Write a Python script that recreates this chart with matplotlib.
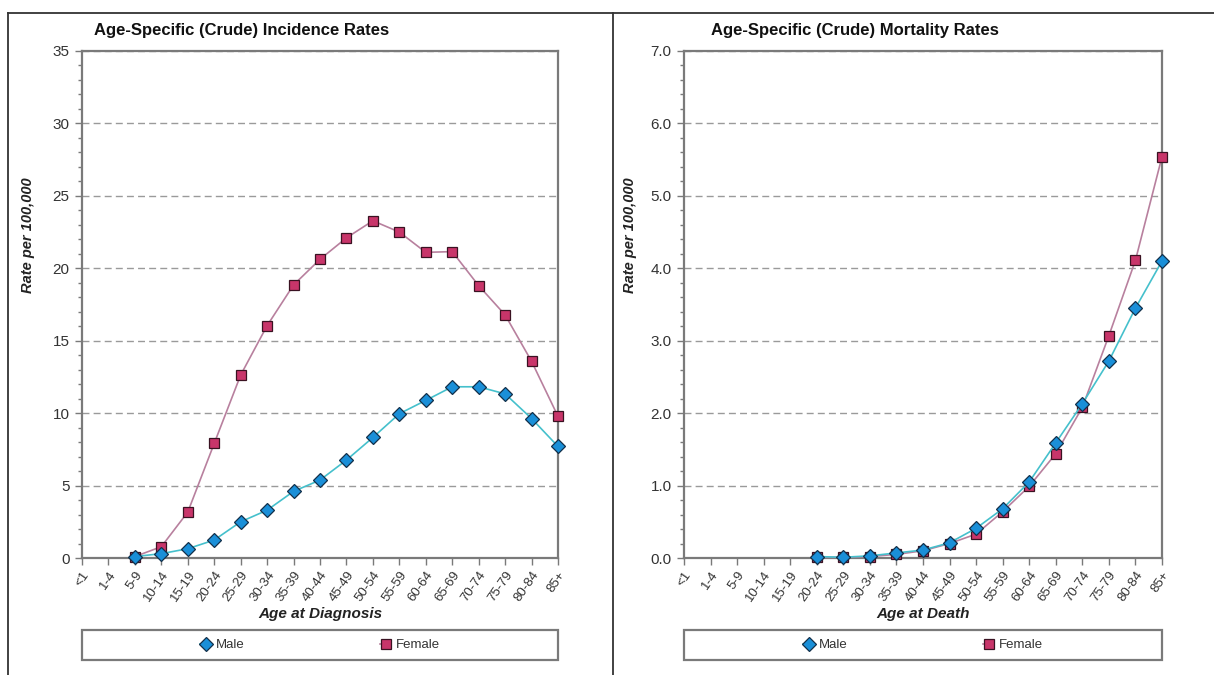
import matplotlib.pyplot as plt
from matplotlib.lines import Line2D
from matplotlib.patches import Rectangle
from matplotlib.ticker import MultipleLocator, FormatStrFormatter

plt.rcParams['font.family'] = ['Liberation Sans', 'DejaVu Sans']

# =============================================================================
# data
# =============================================================================
age_groups = ['<1', '1-4', '5-9', '10-14', '15-19', '20-24', '25-29', '30-34',
              '35-39', '40-44', '45-49', '50-54', '55-59', '60-64', '65-69',
              '70-74', '75-79', '80-84', '85+']

# incidence starts at 5-9
inc_groups = age_groups[2:]
inc_male = [0.1, 0.3, 0.64, 1.24, 2.5, 3.3, 4.6, 5.38, 6.76, 8.32, 9.96,
            10.88, 11.82, 11.82, 11.33, 9.63, 7.7]
inc_female = [0.1, 0.78, 3.17, 7.91, 12.63, 16.04, 18.85, 20.62, 22.1, 23.28,
              22.5, 21.1, 21.15, 18.8, 16.78, 13.58, 9.78]

# mortality starts at 20-24
mort_groups = age_groups[5:]
mort_male = [0.02, 0.01, 0.03, 0.07, 0.11, 0.21, 0.41, 0.68, 1.05, 1.59,
             2.13, 2.72, 3.45, 4.1]
mort_female = [0.01, 0.01, 0.02, 0.05, 0.1, 0.2, 0.33, 0.64, 0.99, 1.44,
               2.08, 3.07, 4.11, 5.54]

# =============================================================================
# styles
# =============================================================================
male_style = dict(color='#45c0cc', lw=1.2, marker='D', ms=7,
                  mfc='#1a8fd8', mec='#12304a', mew=0.9, zorder=4)
female_style = dict(color='#b8809e', lw=1.2, marker='s', ms=7.5,
                    mfc='#c8356a', mec='#3a1222', mew=0.9, zorder=3)
txt_col = '#333333'
spine_col = '#7a7a7a'

fig = plt.figure(figsize=(12.14, 6.75), dpi=100)

def setupAxes(rect, ymax, ystep, yminor, yfmt, title, title_x, xlabel):
    ax = fig.add_axes(rect)
    idx = {g: i for i, g in enumerate(age_groups)}
    ax.set_xlim(0, len(age_groups) - 1)
    ax.set_ylim(0, ymax)
    ax.set_xticks(range(len(age_groups)))
    ax.set_xticklabels(age_groups, rotation=55, ha='right', va='top',
                       rotation_mode='anchor', fontsize=9.5, color=txt_col)
    ax.yaxis.set_major_locator(MultipleLocator(ystep))
    ax.yaxis.set_minor_locator(MultipleLocator(yminor))
    ax.yaxis.set_major_formatter(FormatStrFormatter(yfmt))
    ax.tick_params(axis='y', which='major', length=5, width=1, color=spine_col,
                   labelsize=11, labelcolor=txt_col, pad=4)
    ax.tick_params(axis='y', which='minor', length=3, width=1, color=spine_col)
    ax.tick_params(axis='x', which='major', length=5, width=1, color=spine_col, pad=3)
    for s in ax.spines.values():
        s.set_color(spine_col)
        s.set_linewidth(1.6)
    ax.grid(axis='y', which='major', color='#9a9a9a', ls=(0, (5, 3)), lw=1)
    ax.set_axisbelow(True)
    fig.text(title_x, 1 - 30 / 675, title, ha='center', va='center',
             fontsize=12, fontweight='bold', color='#111111')
    ax.set_xlabel(xlabel, fontsize=11, fontweight='bold', style='italic',
                  color='#222222', va='center')
    ax.xaxis.set_label_coords(0.5, -0.1105)
    ax.set_ylabel('Rate per 100,000', fontsize=10.5, fontweight='bold',
                  style='italic', color='#222222', va='center')
    ax.yaxis.set_label_coords(-0.113, 0.637)
    # legend box
    ax.add_patch(Rectangle((0, -0.2012), 1, 0.0592, transform=ax.transAxes,
                           fill=False, ec=spine_col, lw=1.6, clip_on=False))
    return ax, idx

def addLegend(ax, lm, lf):
    ax.legend([lm, lf], ['Male', 'Female'], loc='center', bbox_to_anchor=(0.5, -0.1716),
              ncol=2, frameon=False, fontsize=9.5, handlelength=0.9, handletextpad=0.3,
              columnspacing=10.2, labelcolor=txt_col)

# left: incidence
ax1, idx = setupAxes([82 / 1214, 117 / 675, 476 / 1214, 507 / 675], 35, 5, 1, '%d',
                     'Age-Specific (Crude) Incidence Rates', 242 / 1214,
                     'Age at Diagnosis')
xs = [idx[g] for g in inc_groups]
lf, = ax1.plot(xs, inc_female, clip_on=False, **female_style)
lm, = ax1.plot(xs, inc_male, clip_on=False, **male_style)
addLegend(ax1, lm, lf)

# right: mortality
ax2, idx = setupAxes([684 / 1214, 117 / 675, 478 / 1214, 507 / 675], 7.0, 1.0, 0.2, '%.1f',
                     'Age-Specific (Crude) Mortality Rates', 855 / 1214,
                     'Age at Death')
xs = [idx[g] for g in mort_groups]
lf, = ax2.plot(xs, mort_female, clip_on=False, **female_style)
lm, = ax2.plot(xs, mort_male, clip_on=False, **male_style)
addLegend(ax2, lm, lf)

# outer frame lines
top = 1 - 13 / 675
for seg in [([8 / 1214, 1], [top, top]),
            ([8 / 1214, 8 / 1214], [0, top]),
            ([613 / 1214, 613 / 1214], [0, top])]:
    fig.add_artist(Line2D(seg[0], seg[1], transform=fig.transFigure,
                          color='#333333', lw=1.3))

fig.savefig('out.png', dpi=100)
